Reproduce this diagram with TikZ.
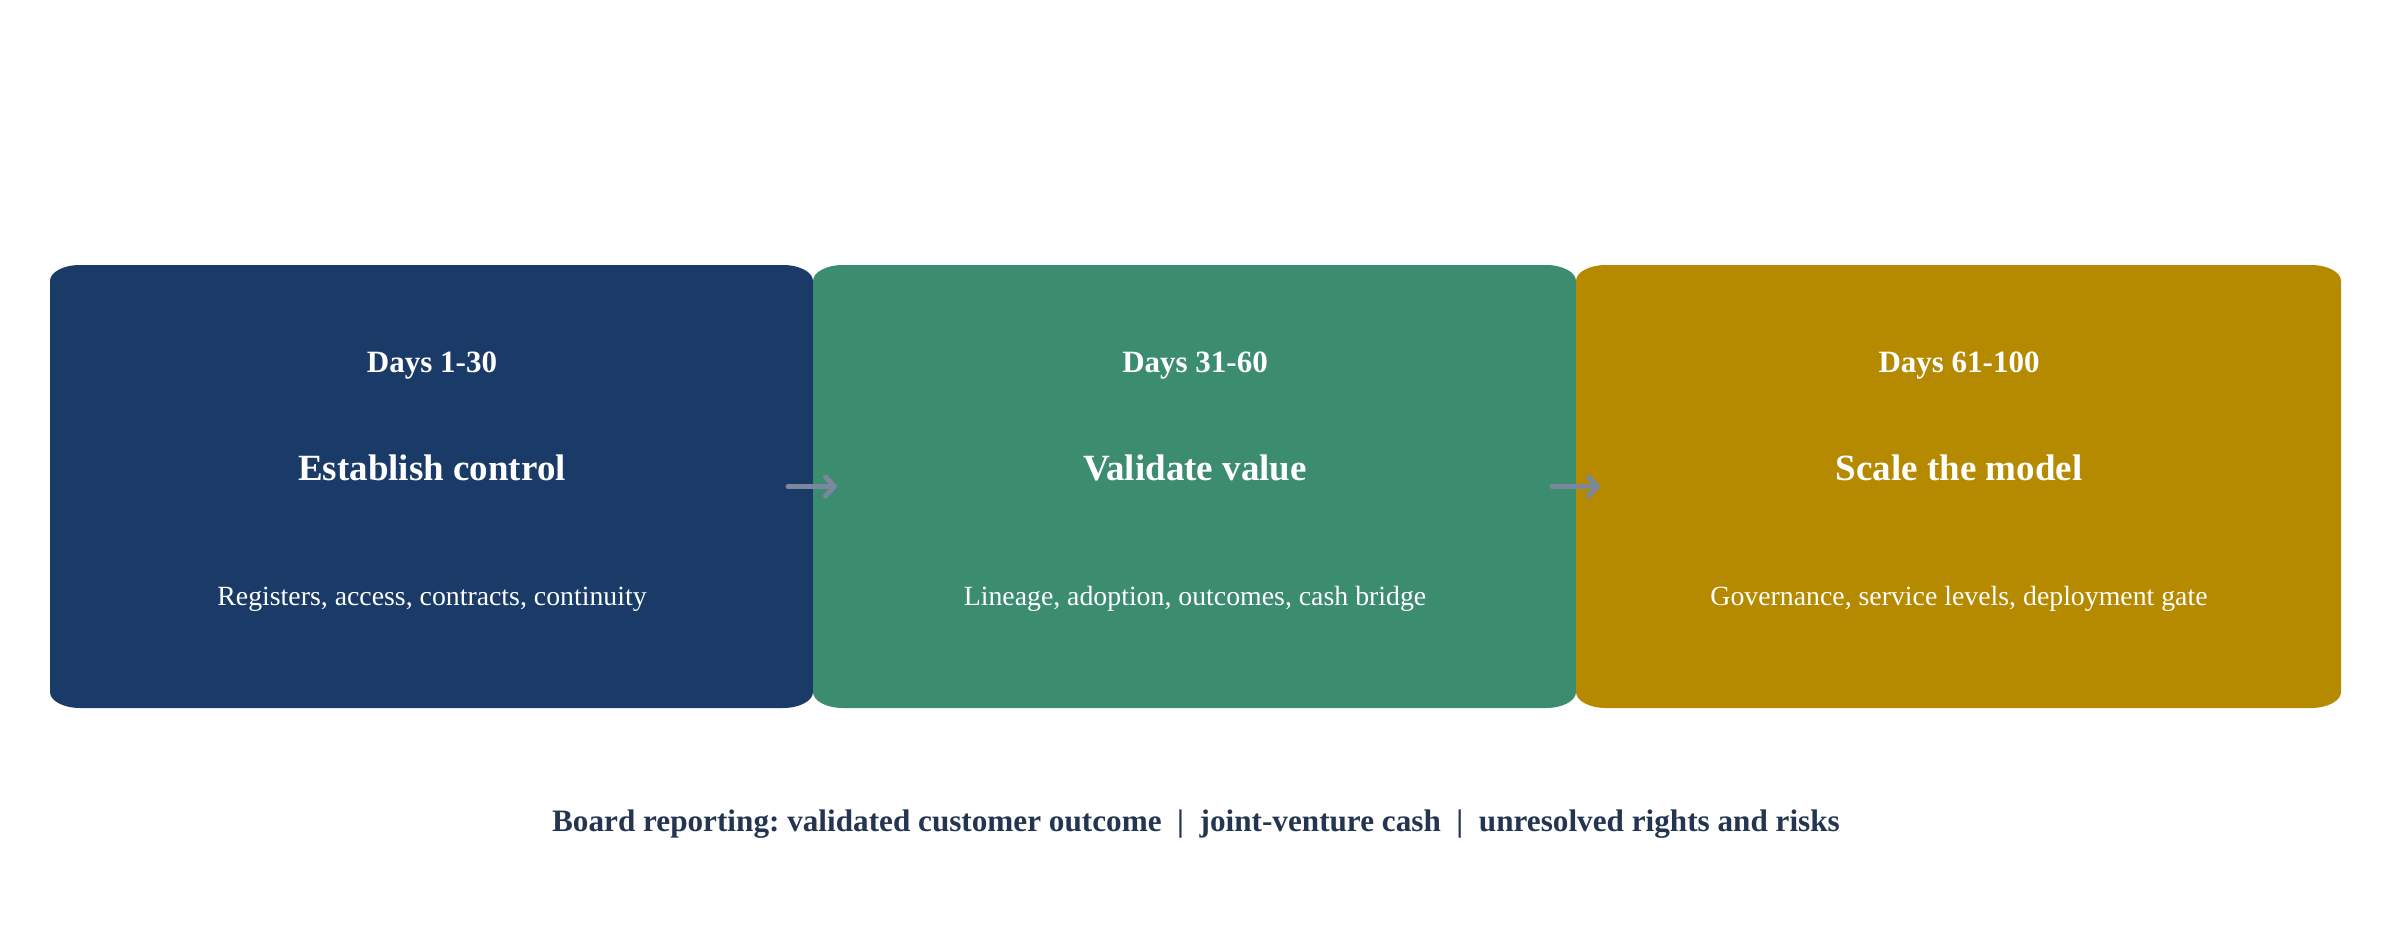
\documentclass[tikz,border=0pt]{standalone}
\usepackage{fontspec}
\setmainfont{Liberation Serif}
\usetikzlibrary{arrows.meta}
\definecolor{cnavy}{HTML}{1A3A67}
\definecolor{cgreen}{HTML}{3C8C6F}
\definecolor{cgold}{HTML}{B58900}
\definecolor{carrow}{HTML}{7A879C}
\definecolor{cfoot}{HTML}{243551}
\tikzset{
  phase/.style={rectangle, minimum width=763pt, minimum height=443pt, inner sep=0pt, outer sep=0pt},
  dayslbl/.style={text=white, font=\fontsize{31}{37}\selectfont\bfseries},
  titlelbl/.style={text=white, font=\fontsize{37}{44}\selectfont\bfseries},
  desclbl/.style={text=white, font=\fontsize{27.8}{33}\selectfont},
  flow/.style={draw=carrow, line width=5pt, line cap=round, -{Straight Barb[round, length=9pt, width=19pt, line width=5pt]}},
  footlbl/.style={text=cfoot, font=\fontsize{31.2}{37}\selectfont\bfseries}
}
\newcommand{\roundbox}[2]{%
  \fill[#2] ([xshift=30pt]#1.north west) -- ([xshift=-30pt]#1.north east)
    arc[start angle=90, end angle=0, x radius=30pt, y radius=16pt]
    -- ([yshift=16pt]#1.south east)
    arc[start angle=0, end angle=-90, x radius=30pt, y radius=16pt]
    -- ([xshift=30pt]#1.south west)
    arc[start angle=270, end angle=180, x radius=30pt, y radius=16pt]
    -- ([yshift=-16pt]#1.north west)
    arc[start angle=180, end angle=90, x radius=30pt, y radius=16pt] -- cycle;}
\begin{document}
\frenchspacing
\begin{tikzpicture}[x=1pt, y=-1pt]
\useasboundingbox[fill=white] (0,0) rectangle (2391,939);
\node[phase] (b1) at (431.5,486.5) {};
\node[phase] (b2) at (1194.5,486.5) {};
\node[phase, minimum width=765pt] (b3) at (1958.5,486.5) {};
\roundbox{b1}{cnavy}
\roundbox{b2}{cgreen}
\roundbox{b3}{cgold}
\node[dayslbl] (d1) at (432,366) {Days 1-30};
\node[dayslbl] (d2) at (1195,366) {Days 31-60};
\node[dayslbl] (d3) at (1959,366) {Days 61-100};
\node[titlelbl] (t1) at (432,468) {Establish control};
\node[titlelbl] (t2) at (1195,468) {Validate value};
\node[titlelbl] (t3) at (1959,468) {Scale the model};
\node[desclbl] (s1) at (432,599) {Registers, access, contracts, continuity};
\node[desclbl] (s2) at (1195,599) {Lineage, adoption, outcomes, cash bridge};
\node[desclbl] (s3) at (1959,599) {Governance, service levels, deployment gate};
\coordinate (a1s) at ([xshift=-25pt]b1.east);
\coordinate (a1e) at ([xshift=24pt]b2.west);
\coordinate (a2s) at ([xshift=-24pt]b2.east);
\coordinate (a2e) at ([xshift=24pt]b3.west);
\draw[flow] (a1s) -- (a1e);
\draw[flow] (a2s) -- (a2e);
\node[footlbl] (foot) at (1196,824) {Board reporting: validated customer outcome\ \ |\ \ joint-venture cash\ \ |\ \ unresolved rights and risks};
\end{tikzpicture}
\end{document}
